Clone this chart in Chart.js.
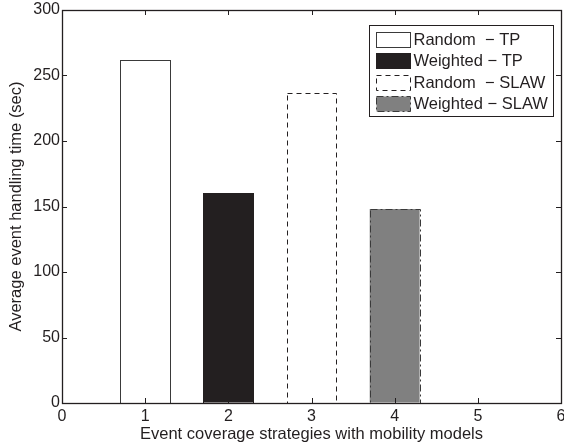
<!DOCTYPE html>
<html lang="en">
<head>
    <meta charset="UTF-8">
    <title>Average event handling time</title>
    <script src="https://cdn.jsdelivr.net/npm/chart.js"></script>
    <style>
        body { margin: 0; padding: 0; background: #fff; }
        .wrap { width: 564px; height: 447px; position: relative; }
    </style>
</head>
<body>
    <div class="wrap"><canvas id="grafico"></canvas></div>
    <script>
        // data
        const seriesNames = ['Random  \u2212 TP', 'Weighted \u2212 TP', 'Random  \u2212 SLAW', 'Weighted \u2212 SLAW'];
        const barPositions = [1, 2, 3, 4];
        const handlingTimes = [262, 160, 237, 148];
        const xTickValues = [0, 1, 2, 3, 4, 5, 6];
        const yTickValues = [0, 50, 100, 150, 200, 250, 300];

        const fills = ['#ffffff', '#231f20', '#ffffff', '#808080'];
        const edges = ['#3a3a3a', '#231f20', '#231f20', '#3a3a3a'];
        const dashes = [[], [], [5, 4], [7, 3, 2, 3]];
        const ink = '#231f20';
        const fontFam = '"Liberation Sans", Arial, sans-serif';

        // bars with dashed outlines + matlab style box, inward ticks and legend
        const matlabLook = {
            id: 'matlabLook',
            afterDatasetsDraw(chart) {
                const ctx = chart.ctx;
                chart.data.datasets.forEach((ds, i) => {
                    chart.getDatasetMeta(i).data.forEach(bar => {
                        const l = Math.round(bar.x - bar.width / 2) + 0.5;
                        const r = Math.round(bar.x + bar.width / 2) + 0.5;
                        const t = Math.round(bar.y) + 0.5;
                        const b = Math.round(bar.base) + 0.5;
                        ctx.save();
                        ctx.strokeStyle = edges[i];
                        ctx.lineWidth = 1;
                        ctx.setLineDash(dashes[i]);
                        ctx.strokeRect(l, t, r - l, b - t);
                        ctx.restore();
                    });
                });
            },
            afterDraw(chart) {
                const ctx = chart.ctx;
                const a = chart.chartArea;
                const xs = chart.scales.x, ys = chart.scales.y;
                const len = 5;
                ctx.save();
                ctx.strokeStyle = ink;
                ctx.lineWidth = 1;
                ctx.beginPath();
                xTickValues.forEach(v => {
                    const px = Math.round(xs.getPixelForValue(v)) + 0.5;
                    ctx.moveTo(px, a.bottom); ctx.lineTo(px, a.bottom - len);
                    ctx.moveTo(px, a.top); ctx.lineTo(px, a.top + len);
                });
                yTickValues.forEach(v => {
                    const py = Math.round(ys.getPixelForValue(v)) + 0.5;
                    ctx.moveTo(a.left, py); ctx.lineTo(a.left + len, py);
                    ctx.moveTo(a.right, py); ctx.lineTo(a.right - len, py);
                });
                ctx.stroke();
                ctx.lineWidth = 1.3;
                ctx.strokeRect(Math.round(a.left) + 0.5, Math.round(a.top) + 0.5,
                    Math.round(a.right - a.left), Math.round(a.bottom - a.top));

                // legend box
                const bw = 184, rowH = 21.5;
                const bx = Math.round(a.right - 8 - bw) + 0.5;
                const by = Math.round(a.top + 15) + 0.5;
                const bh = Math.round(rowH * seriesNames.length + 5);
                ctx.fillStyle = '#fff';
                ctx.fillRect(bx, by, bw, bh);
                ctx.lineWidth = 1;
                ctx.strokeRect(bx, by, bw, bh);
                ctx.font = '16.5px ' + fontFam;
                ctx.textBaseline = 'middle';
                seriesNames.forEach((name, i) => {
                    const sy = Math.round(by + 6 + i * rowH) + 0.5;
                    const sx = bx + 7;
                    ctx.fillStyle = fills[i];
                    ctx.fillRect(sx, sy, 34, 15);
                    ctx.setLineDash(dashes[i]);
                    ctx.strokeStyle = edges[i];
                    ctx.strokeRect(sx, sy, 34, 15);
                    ctx.setLineDash([]);
                    ctx.fillStyle = ink;
                    ctx.fillText(name, sx + 37, sy + 8);
                });
                ctx.restore();
            }
        };

        const datasets = seriesNames.map((name, i) => ({
            label: name,
            data: [{ x: barPositions[i], y: handlingTimes[i] }],
            backgroundColor: fills[i],
            borderWidth: 0,
            grouped: false,
            categoryPercentage: 0.6,
            barPercentage: 1
        }));

        new Chart(document.getElementById('grafico'), {
            type: 'bar',
            data: { datasets },
            options: {
                responsive: true,
                maintainAspectRatio: false,
                animation: false,
                layout: { padding: { top: 10, right: 3, left: 0, bottom: 0 } },
                plugins: { legend: { display: false }, tooltip: { enabled: false } },
                scales: {
                    x: {
                        type: 'linear', min: 0, max: 6,
                        offset: false,
                        afterBuildTicks: s => { s.ticks = xTickValues.map(v => ({ value: v })); },
                        afterFit: s => { s.height = 44; s.paddingLeft = 0; s.paddingRight = 0; },
                        ticks: { color: ink, padding: 4, font: { size: 16, family: fontFam } },
                        grid: { drawOnChartArea: false, drawTicks: false },
                        border: { display: false },
                        title: {
                            display: true, text: 'Event coverage strategies with mobility models',
                            color: ink, font: { size: 16.5, family: fontFam }, padding: { top: 0, bottom: 3 }
                        }
                    },
                    y: {
                        min: 0, max: 300,
                        afterBuildTicks: s => { s.ticks = yTickValues.map(v => ({ value: v })); },
                        afterFit: s => { s.width = 62; s.paddingTop = 0; s.paddingBottom = 0; },
                        ticks: { color: ink, padding: 2, font: { size: 16, family: fontFam } },
                        grid: { drawOnChartArea: false, drawTicks: false },
                        border: { display: false },
                        title: {
                            display: true, text: 'Average event handling time (sec)',
                            color: ink, font: { size: 16.5, family: fontFam }, padding: { top: 6.5, bottom: 0 }
                        }
                    }
                }
            },
            plugins: [matlabLook]
        });
    </script>
</body>
</html>
